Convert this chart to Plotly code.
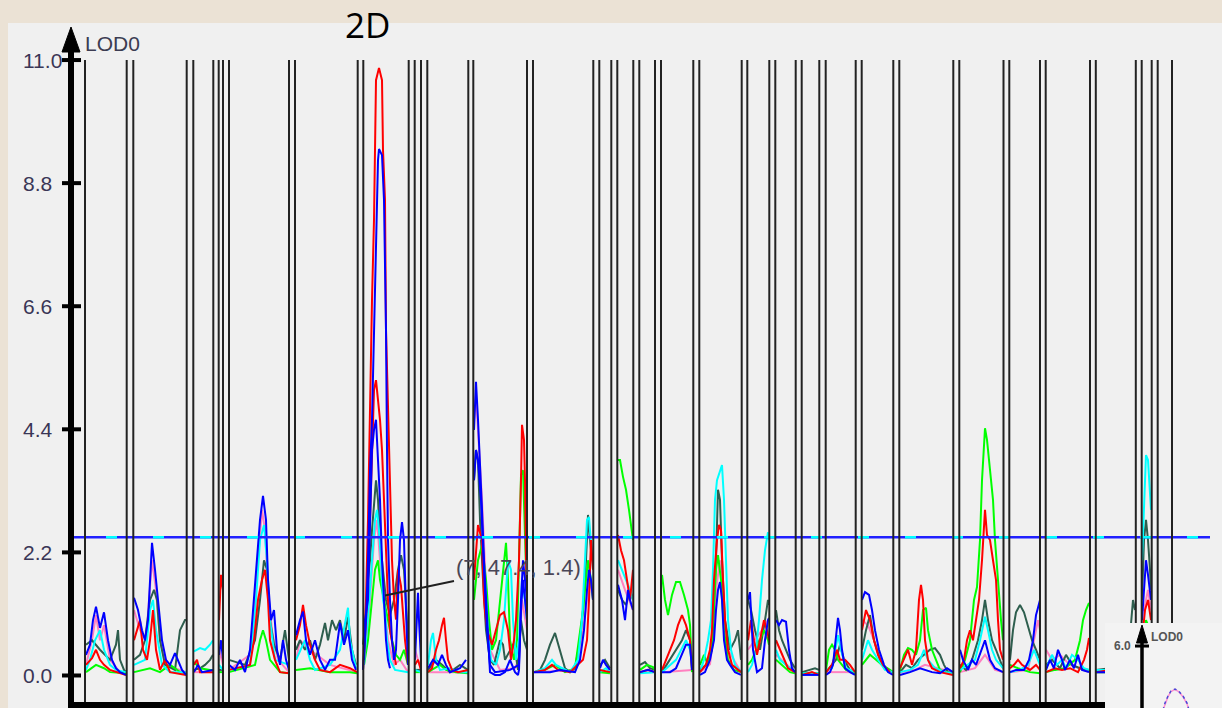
import plotly.graph_objects as go

# ---------------- data (genome position units, LOD values) ----------------
boundaries = [85, 126.7, 133.3, 186.7, 193.3, 213.3, 218.7, 223, 229, 289, 295,
              357.7, 363.3, 408.7, 414.7, 421, 427.3, 468.3, 473.3, 527, 533,
              593.3, 599.3, 611.3, 617.3, 633.3, 639.3, 655, 661, 693.3, 699.3,
              741.7, 747.3, 769.3, 775.3, 795.7, 801.7, 819.3, 825.7, 855.7,
              861.7, 893.3, 899.3, 953.3, 959.3, 1003.5, 1009.3, 1040, 1045.7,
              1090, 1095.8, 1135.8, 1141.7, 1151.7, 1157.7, 1172]

tick_values = [0.0, 2.2, 4.4, 6.6, 8.8, 11.0]
tick_labels = ["0.0", "2.2", "4.4", "6.6", "8.8", "11.0"]
threshold = 2.47
annot_point = (385, 1.43)
annot_text = "(7, 47.4, 1.4)"

red = [
    [(86,0.19),(92,0.31),(96,0.46),(100,0.28),(104,0.19),(110,0.10),(126,0.01)],
    [(134,0.63),(140,0.99),(143,0.46),(147,0.28),(150,0.63),(153,1.17),(156,0.46),(160,0.10),(165,0.28),(170,0.06),(186,0.01)],
    [(194,0.19),(197,0.28),(200,0.06),(213,0.06)],
    [(219,0.99),(221,1.80),(223,1.53)],
    [(229,0.10),(250,0.19),(254,0.63),(258,1.35),(262,1.71),(265,1.89),(268,1.35),(270,0.63),(275,0.28),(280,0.06),(289,0.04)],
    [(296,0.63),(300,0.90),(303,1.26),(306,0.90),(310,0.55),(315,0.28),(320,0.10),(330,0.06),(340,0.19),(350,0.13),(357,0.06)],
    [(363,0.10),(366,1.35),(368,2.78),(370,4.92),(372,6.71),(374,8.14),(376,10.64),(379,10.86),(382,10.64),(383,9.39),(385,8.50),(386,6.18),(388,4.92),(390,3.67),(392,2.06),(394,1.35),(396,1.00),(398,1.89),(401,1.60),(405,0.63),(408,0.19)],
    [(415,0.19),(418,0.28),(421,0.10)],
    [(428,0.06),(432,0.13),(436,0.46),(439,0.63),(442,0.90),(444,1.03),(446,0.63),(448,0.28),(452,0.10),(458,0.06),(468,0.10)],
    [(474,1.71),(478,2.69),(482,2.42),(484,1.35),(486,0.99),(488,0.76),(492,0.55),(496,0.81),(500,1.08),(504,1.13),(508,0.81),(511,0.28),(514,0.63),(516,0.99),(519,2.06),(521,3.49),(522,4.48),(524,4.21),(525,3.49),(526,2.06),(527,1.35)],
    [(534,0.06),(545,0.10),(552,0.19),(558,0.10),(570,0.06),(578,0.19),(583,0.28),(587,0.63),(589,1.35),(591,2.42),(593,1.89)],
    [(600,0.10),(610,0.06)],
    [(618,2.51),(621,2.24),(624,2.06),(627,1.71),(630,1.35),(633,1.89)],
    [(640,0.06),(648,0.10),(655,0.06)],
    [(662,0.10),(666,0.28),(670,0.46),(674,0.63),(678,0.90),(682,1.08),(686,0.90),(690,0.63),(692,0.10)],
    [(700,0.06),(706,0.19),(710,0.46),(712,0.81),(714,1.71),(717,2.42),(719,2.69),(721,2.60),(723,1.71),(725,0.99),(728,0.46),(732,0.19),(741,0.06)],
    [(748,0.63),(751,0.99),(754,0.63),(757,0.37),(760,0.63),(764,0.99),(767,0.81),(769,0.63)],
    [(776,0.63),(780,0.46),(784,0.28),(788,0.13),(795,0.06)],
    [(802,0.01),(812,0.06),(819,0.01)],
    [(826,0.06),(832,0.19),(837,0.46),(840,0.28),(845,0.28),(850,0.19),(855,0.06)],
    [(862,0.81),(866,1.17),(870,0.99),(874,0.63),(878,0.37),(883,0.19),(890,0.06)],
    [(900,0.13),(904,0.28),(908,0.46),(912,0.19),(916,0.46),(919,1.35),(921,1.62),(923,1.35),(925,0.63),(928,0.28),(932,0.13),(940,0.06),(953,0.01)],
    [(960,0.13),(964,0.28),(967,0.63),(970,0.81),(973,0.63),(976,0.99),(979,1.35),(982,2.06),(984,2.78),(985,2.96),(987,2.51),(990,2.42),(993,2.06),(996,1.71),(998,0.99),(1000,0.46),(1003,0.28)],
    [(1010,0.13),(1014,0.19),(1018,0.28),(1022,0.19),(1030,0.10),(1036,0.19),(1040,0.10)],
    [(1046,0.06),(1055,0.13),(1062,0.10),(1070,0.13),(1078,0.06),(1084,0.28),(1087,0.46),(1089,0.67)],
    [(1096,0.06),(1110,0.10),(1125,0.06),(1135,0.13)],
    [(1142,0.63),(1145,1.17),(1148,1.35),(1151,0.99)],
    [(1158,0.10),(1165,0.06),(1172,0.10)],
]

red2 = [
    [(364,0.28),(367,1.35),(370,2.78),(372,4.03),(374,5.10),(376,5.28),(378,4.92),(380,4.57),(382,4.03),(384,3.14),(386,2.06),(388,1.35),(390,0.81),(393,0.46),(396,0.19)],
]

blue = [
    [(86,0.37),(90,0.55),(93,0.99),(96,1.23),(100,0.85),(104,1.13),(108,0.63),(112,0.28),(116,0.13),(120,0.06),(126,0.01)],
    [(134,1.39),(138,1.17),(142,0.81),(145,0.63),(148,0.99),(150,1.62),(152,2.37),(155,1.89),(158,1.35),(162,0.63),(166,0.28),(170,0.19),(175,0.40),(178,0.28),(182,0.10),(186,0.01)],
    [(194,0.06),(198,0.19),(202,0.06),(213,0.10)],
    [(219,0.37),(221,0.63),(223,0.28)],
    [(229,0.19),(235,0.10),(240,0.28),(245,0.06),(250,0.46),(254,1.35),(257,2.06),(260,2.78),(263,3.21),(266,2.78),(268,1.71),(271,0.99),(274,1.17),(277,0.46),(280,0.19),(283,0.63),(286,0.28),(289,0.10)],
    [(296,0.72),(300,0.99),(303,1.14),(306,0.63),(310,0.37),(315,0.63),(320,0.28),(325,0.10),(330,0.28),(335,0.28),(340,0.94),(344,0.55),(348,0.81),(352,0.28),(356,0.10)],
    [(363,0.10),(366,0.99),(368,2.06),(370,3.67),(372,4.57),(374,6.18),(376,7.61),(378,9.21),(379,9.41),(382,9.30),(384,8.50),(386,6.18),(387,4.03),(388,2.42),(390,1.35),(392,0.63),(394,0.28),(396,0.46),(398,1.35),(400,2.42),(402,2.74),(404,2.42),(406,1.17),(408,0.19)],
    [(415,0.28),(417,0.99),(418,1.48),(419,0.99),(421,0.28)],
    [(428,0.13),(433,0.28),(438,0.19),(442,0.37),(446,0.19),(450,0.06),(460,0.13),(466,0.28)],
    [(474,4.39),(476,5.25),(478,4.57),(480,3.85),(482,2.96),(484,2.06),(486,1.30),(488,0.63),(490,0.06),(495,0.01),(500,0.01),(505,0.06),(510,0.28),(515,0.06),(518,0.01),(519,0.10),(521,1.35),(523,2.06),(525,1.71),(527,1.35)],
    [(534,0.06),(550,0.06),(560,0.10),(575,0.06),(580,0.28),(584,0.81),(587,1.53),(589,1.89),(591,1.71),(593,1.35)],
    [(600,0.13),(603,0.28),(606,0.19),(610,0.10)],
    [(618,1.62),(622,1.35),(625,0.99),(628,1.53),(630,1.35),(633,1.17)],
    [(640,0.06),(648,0.10),(655,0.06)],
    [(662,0.06),(670,0.06),(676,0.13),(682,0.37),(686,0.55),(690,0.55),(692,0.10)],
    [(700,0.01),(705,0.06),(710,0.28),(714,0.63),(716,1.17),(718,1.53),(720,1.67),(722,1.35),(724,0.63),(727,0.28),(730,0.19),(735,0.06),(741,0.01)],
    [(748,1.35),(750,1.49),(753,0.46),(757,0.06),(762,0.13),(765,0.63),(768,0.99),(769,1.03)],
    [(776,0.99),(779,0.90),(782,0.99),(786,0.96),(789,0.46),(792,0.13),(795,0.06)],
    [(802,0.01),(819,0.01)],
    [(826,0.01),(830,0.06),(833,0.19),(836,0.63),(838,1.03),(840,0.81),(842,0.46),(845,0.13),(850,0.06),(855,0.01)],
    [(862,1.35),(865,1.49),(869,1.44),(872,1.17),(875,0.81),(879,0.46),(884,0.19),(888,0.06),(893,0.01)],
    [(900,0.01),(910,0.06),(920,0.13),(926,0.10),(932,0.06),(940,0.04),(947,0.13),(953,0.06)],
    [(960,0.46),(963,0.28),(968,0.10),(972,0.28),(976,0.19),(980,0.37),(985,0.63),(990,0.28),(995,0.13),(1003,0.06)],
    [(1010,0.06),(1016,0.10),(1024,0.10),(1029,0.28),(1033,0.63),(1036,1.08),(1038,1.21),(1040,1.35)],
    [(1046,0.10),(1050,0.28),(1054,0.13),(1058,0.46),(1062,0.28),(1065,0.10),(1070,0.28),(1074,0.13),(1078,0.37),(1082,0.10),(1089,0.06)],
    [(1096,0.06),(1110,0.06),(1125,0.10),(1135,0.06)],
    [(1142,0.99),(1144,1.53),(1146,2.06),(1148,1.80),(1150,1.53),(1151,1.35)],
    [(1158,0.06),(1172,0.06)],
]

blue2 = [
    [(364,0.28),(365,0.99),(368,1.35),(370,2.78),(372,4.03),(374,4.39),(376,4.57),(378,3.85),(380,3.14),(382,2.06),(384,1.35),(386,0.63),(388,0.28),(390,0.13)],
    [(474,3.49),(476,4.03),(478,3.85),(481,3.14),(484,1.89),(487,0.81),(490,0.19),(495,0.06),(510,0.10),(519,0.19),(521,1.17),(523,1.71),(525,1.35),(527,0.99)],
]

cyan = [
    [(86,0.10),(90,0.28),(95,0.63),(100,0.81),(104,0.46),(110,0.19),(116,0.10),(126,0.06)],
    [(134,0.19),(145,0.28),(150,1.17),(153,1.35),(156,0.81),(162,0.19),(170,0.06),(186,0.06)],
    [(194,0.43),(200,0.49),(205,0.46),(210,0.55),(213,0.63)],
    [(219,0.19),(223,0.10)],
    [(229,0.10),(250,0.19),(256,1.35),(260,2.42),(264,2.69),(267,2.06),(270,0.99),(275,0.28),(289,0.19)],
    [(296,0.28),(305,0.63),(310,0.28),(315,0.10),(330,0.19),(340,0.46),(348,1.21),(350,0.63),(356,0.13)],
    [(364,0.19),(368,0.99),(370,1.53),(372,2.06),(375,2.78),(377,2.96),(379,2.60),(381,2.06),(383,1.35),(385,1.17),(387,0.63),(390,0.28),(395,0.10),(408,0.06)],
    [(415,0.10),(421,0.06)],
    [(428,0.19),(431,0.63),(433,0.76),(436,0.28),(440,0.10),(450,0.13),(460,0.06),(468,0.06)],
    [(474,2.42),(478,2.51),(482,2.42),(485,1.71),(488,0.81),(491,0.28),(496,0.19),(500,0.46),(504,0.99),(508,2.06),(511,1.89),(513,0.99),(516,0.28),(519,0.63),(522,1.71),(525,1.35),(527,0.99)],
    [(534,0.06),(545,0.13),(552,0.28),(556,0.19),(570,0.06),(578,0.28),(582,0.99),(585,2.06),(587,2.78),(589,2.83),(591,2.42),(593,1.89)],
    [(600,0.06),(606,0.13),(610,0.06)],
    [(618,2.06),(622,1.89),(626,1.71),(630,1.53),(633,1.35)],
    [(640,0.04),(655,0.06)],
    [(662,0.06),(670,0.19),(676,0.28),(682,0.49),(686,0.63),(690,0.46),(692,0.19)],
    [(700,0.06),(704,0.28),(708,0.63),(711,0.99),(713,1.89),(715,3.14),(717,3.49),(720,3.67),(722,3.76),(724,3.14),(726,2.06),(728,0.99),(731,0.46),(735,0.19),(741,0.06)],
    [(748,0.06),(752,0.19),(756,0.46),(759,0.99),(762,1.71),(765,2.24),(768,2.56),(769,2.42)],
    [(776,0.46),(780,0.28),(786,0.19),(795,0.06)],
    [(802,0.04),(819,0.04)],
    [(826,0.10),(832,0.13),(838,0.72),(841,0.46),(846,0.13),(855,0.06)],
    [(862,0.28),(868,0.63),(872,0.46),(878,0.28),(885,0.10),(893,0.06)],
    [(900,0.06),(910,0.10),(918,0.19),(924,0.46),(928,0.28),(935,0.13),(945,0.06),(953,0.04)],
    [(960,0.10),(968,0.19),(975,0.28),(980,0.63),(985,1.05),(988,0.81),(992,0.46),(996,0.28),(1003,0.13)],
    [(1010,0.06),(1020,0.10),(1028,0.19),(1034,0.46),(1038,0.28),(1040,0.19)],
    [(1046,0.13),(1052,0.37),(1057,0.19),(1062,0.28),(1066,0.13),(1072,0.37),(1078,0.28),(1084,0.13),(1089,0.10)],
    [(1096,0.10),(1135,0.10)],
    [(1142,2.06),(1144,3.14),(1146,3.94),(1148,3.85),(1150,3.32),(1151,2.96)],
    [(1158,0.06),(1172,0.06)],
]

green = [
    [(86,0.06),(96,0.19),(104,0.13),(110,0.06),(126,0.04)],
    [(134,0.06),(150,0.13),(160,0.06),(170,0.19),(180,0.06),(186,0.04)],
    [(194,0.24),(200,0.13),(210,0.10),(213,0.10)],
    [(219,0.06),(223,0.06)],
    [(229,0.06),(255,0.19),(260,0.63),(263,0.81),(266,0.63),(270,0.28),(280,0.06),(289,0.04)],
    [(296,0.10),(310,0.13),(330,0.06),(350,0.06),(357,0.04)],
    [(364,0.19),(368,0.63),(372,1.35),(375,1.89),(378,2.06),(380,1.71),(384,1.35),(388,0.99),(392,0.63),(396,0.37),(400,0.28),(404,0.46),(408,0.19)],
    [(415,0.06),(421,0.06)],
    [(428,0.06),(440,0.19),(446,0.10),(456,0.06),(468,0.04)],
    [(474,1.35),(478,2.06),(482,2.33),(486,1.71),(489,0.99),(492,0.46),(496,0.63),(500,1.35),(504,2.06),(506,2.37),(508,1.71),(510,0.63),(514,0.28),(517,0.63),(519,2.06),(521,3.58),(523,3.67),(525,2.42),(527,1.35)],
    [(534,0.06),(545,0.10),(555,0.19),(565,0.06),(575,0.13),(579,0.63),(583,1.17),(586,1.71),(588,2.06),(591,1.71),(593,1.35)],
    [(600,0.06),(610,0.04)],
    [(618,3.85),(620,3.85),(623,3.55),(626,3.32),(629,2.96),(632,2.60),(633,2.42)],
    [(640,0.10),(647,0.19),(653,0.15),(655,0.10)],
    [(662,1.80),(665,1.35),(668,1.08),(672,1.44),(676,1.67),(680,1.67),(684,1.44),(688,1.17),(690,0.90),(692,0.06)],
    [(700,0.19),(704,0.37),(708,0.19),(712,0.63),(716,1.89),(718,2.15),(721,1.71),(724,0.81),(728,0.28),(734,0.10),(741,0.06)],
    [(748,0.19),(752,0.28),(756,0.46),(760,0.63),(764,0.81),(768,0.63),(769,0.55)],
    [(776,0.28),(782,0.19),(790,0.06),(795,0.04)],
    [(802,0.04),(819,0.04)],
    [(826,0.10),(829,0.46),(832,0.55),(835,0.46),(838,0.28),(842,0.19),(846,0.10),(855,0.04)],
    [(862,0.19),(870,0.37),(876,0.28),(882,0.19),(890,0.10),(893,0.06)],
    [(900,0.10),(904,0.37),(908,0.49),(912,0.46),(916,0.37),(920,0.63),(923,1.17),(926,1.21),(928,0.81),(932,0.46),(936,0.28),(940,0.10),(946,0.06),(953,0.04)],
    [(960,0.06),(965,0.28),(970,0.63),(974,1.35),(977,1.58),(980,2.42),(982,3.49),(984,4.21),(985,4.42),(987,4.21),(990,3.67),(993,3.14),(995,2.42),(997,1.89),(999,1.35),(1001,0.99),(1003,0.63)],
    [(1010,0.19),(1018,0.13),(1030,0.06),(1040,0.04)],
    [(1046,0.06),(1055,0.10),(1065,0.13),(1075,0.28),(1080,0.63),(1083,0.99),(1086,1.17),(1089,1.30)],
    [(1096,0.06),(1135,0.06)],
    [(1142,0.46),(1146,0.99),(1150,0.81)],
    [(1158,0.04),(1172,0.04)],
]

darkgreen = [
    [(86,0.55),(92,0.63),(100,0.46),(110,0.28),(116,0.55),(118,0.81),(120,0.28),(124,0.10),(126,0.06)],
    [(134,0.28),(140,0.37),(145,0.63),(150,1.35),(154,1.53),(157,1.35),(160,0.63),(165,0.19),(175,0.10),(180,0.81),(185,0.99),(186,0.99)],
    [(194,0.10),(200,0.13),(205,0.19),(210,0.28),(213,0.37)],
    [(219,0.10),(223,0.10)],
    [(229,0.28),(245,0.19),(255,0.63),(260,1.35),(264,2.06),(267,1.89),(270,0.99),(274,0.55),(280,0.28),(285,0.81),(289,0.28)],
    [(296,0.46),(300,0.63),(305,0.46),(310,0.63),(315,0.28),(320,0.55),(325,0.94),(328,0.63),(332,0.99),(336,0.81),(340,0.99),(344,0.63),(348,1.05),(352,0.46),(356,0.19)],
    [(363,0.55),(366,0.99),(368,1.71),(370,2.06),(372,2.60),(374,3.14),(376,3.49),(378,3.14),(380,2.42),(382,2.06),(384,1.71),(386,1.35),(390,1.08),(394,1.35),(398,1.89),(401,2.15),(404,1.89),(406,1.17),(408,0.63)],
    [(415,0.10),(421,0.10)],
    [(428,0.10),(436,0.28),(442,0.19),(450,0.06),(460,0.19),(468,0.10)],
    [(474,3.49),(476,4.03),(478,3.85),(480,2.78),(483,1.71),(486,0.81),(490,0.28),(494,0.19),(500,0.63),(503,0.55),(505,0.28),(510,0.46),(514,0.58),(518,0.10),(521,0.99),(524,0.63),(527,0.46)],
    [(534,0.06),(540,0.10),(545,0.28),(550,0.55),(555,0.76),(560,0.46),(565,0.13),(570,0.06),(575,0.13),(580,0.63),(583,1.17),(586,2.06),(588,2.87),(590,2.42),(592,2.06)],
    [(600,0.19),(605,0.28),(610,0.13)],
    [(618,1.53),(622,1.35),(626,1.26),(630,1.53),(633,1.35)],
    [(640,0.19),(645,0.24),(650,0.13),(655,0.10)],
    [(662,0.06),(670,0.28),(676,0.46),(682,0.63),(686,0.81),(690,0.63),(692,0.28)],
    [(700,0.10),(706,0.19),(712,0.46),(716,2.06),(718,3.32),(720,3.14),(722,2.06),(725,0.99),(730,0.46),(735,0.63),(738,0.81),(741,0.28)],
    [(748,1.35),(751,1.17),(755,0.81),(760,0.46),(765,0.99),(768,1.35),(769,1.26)],
    [(776,1.17),(779,0.81),(782,0.63),(786,0.46),(790,0.28),(795,0.13)],
    [(802,0.06),(810,0.10),(815,0.13),(819,0.10)],
    [(826,0.06),(836,0.28),(840,0.55),(844,0.28),(850,0.10),(855,0.06)],
    [(862,0.46),(866,0.81),(870,1.08),(874,0.63),(880,0.28),(886,0.10),(893,0.06)],
    [(900,0.06),(906,0.19),(912,0.13),(918,0.28),(924,0.37),(930,0.46),(935,0.49),(940,0.37),(944,0.19),(948,0.06),(953,0.04)],
    [(960,0.19),(966,0.10),(972,0.28),(978,0.63),(982,0.99),(985,1.35),(988,0.99),(992,0.63),(996,0.46),(1000,0.28),(1003,0.13)],
    [(1010,0.28),(1013,0.81),(1016,1.13),(1020,1.26),(1024,1.13),(1028,0.90),(1032,0.63),(1036,0.46),(1040,0.28)],
    [(1046,0.19),(1052,0.28),(1060,0.13),(1066,0.37),(1072,0.19),(1080,0.13),(1089,0.10)],
    [(1096,0.10),(1110,0.13),(1128,0.28),(1133,1.35),(1135,1.17)],
    [(1142,1.35),(1144,2.42),(1146,2.78),(1148,2.42),(1150,1.89),(1151,1.53)],
    [(1158,0.10),(1172,0.10)],
]

pink = [
    [(86,0.19),(92,0.63),(96,1.08),(100,0.63),(104,0.90),(110,0.28),(120,0.06)],
    [(134,1.17),(140,0.81),(146,0.63),(150,1.53),(152,2.06),(156,1.53),(160,0.63),(166,0.19),(186,0.06)],
    [(194,0.06),(213,0.06)],
    [(219,0.46),(223,0.19)],
    [(229,0.10),(250,0.37),(254,1.17),(258,2.06),(262,2.96),(265,2.60),(268,1.53),(272,0.81),(278,0.28),(289,0.06)],
    [(296,0.28),(300,0.63),(310,0.46),(330,0.19),(357,0.06)],
    [(364,0.19),(370,1.35),(374,2.42),(377,2.78),(380,2.06),(384,1.35),(388,0.63),(394,0.19),(400,0.28),(408,0.06)],
    [(415,0.46),(421,0.10)],
    [(428,0.06),(468,0.06)],
    [(474,4.57),(476,5.01),(478,4.39),(482,3.14),(486,1.58),(490,0.46),(500,0.10),(515,0.13),(519,0.30),(522,1.35),(527,0.81)],
    [(534,0.06),(560,0.08),(575,0.10),(580,0.40),(584,0.99),(587,1.35),(590,1.71),(593,1.35)],
    [(600,0.06),(610,0.06)],
    [(618,1.89),(625,1.53),(633,1.17)],
    [(640,0.06),(655,0.06)],
    [(662,0.06),(692,0.10)],
    [(700,0.06),(710,0.20),(713,0.63),(716,1.53),(720,2.06),(724,1.17),(728,0.46),(741,0.06)],
    [(748,0.46),(755,0.63),(762,0.81),(768,0.99)],
    [(776,0.37),(795,0.06)],
    [(802,0.04),(819,0.04)],
    [(826,0.06),(855,0.06)],
    [(862,0.99),(868,0.90),(874,0.63),(885,0.10)],
    [(900,0.06),(915,0.10),(925,0.19),(953,0.06)],
    [(960,0.06),(975,0.13),(985,0.37),(995,0.10),(1003,0.06)],
    [(1010,0.06),(1028,0.10),(1034,0.63),(1038,0.99),(1040,0.81)],
    [(1046,0.46),(1052,0.28),(1060,0.37),(1070,0.19),(1089,0.06)],
    [(1096,0.06),(1135,0.06)],
    [(1142,1.17),(1144,1.17),(1148,1.53),(1151,1.17)],
    [(1158,0.06),(1172,0.06)],
]

# inset (partially visible second LOD panel)
inset_pos = [1163, 1165, 1168, 1171, 1175, 1179, 1183, 1187, 1189]
inset_blue = [-0.2, 0.48, 1.16, 1.65, 1.84, 1.60, 1.16, 0.48, -0.2]
inset_pink = [-0.2, 0.40, 1.10, 1.60, 1.80, 1.55, 1.10, 0.40, -0.2]
inset_tick = 6.0

# ---------------- layout geometry (pixels of the 1222x708 page) ----------------
W, H = 1222, 708
L, R, T, B = 71, 1222, 30, 708
BEIGE = "#ebe2d5"


def px(x):
    return (x - L) / (R - L)


def py(y):
    return (B - y) / (B - T)


def flatten(segments):
    xs, ys = [], []
    for seg in segments:
        for x, v in seg:
            xs.append(x)
            ys.append(v)
        xs.append(None)
        ys.append(None)
    return xs, ys


fig = go.Figure()

series = [
    (pink, "#ff80c0"),
    (darkgreen, "#2e5e4e"),
    (green, "#00ff00"),
    (cyan, "#00ffff"),
    (red2, "#ff0000"),
    (red, "#ff0000"),
    (blue2, "#0000ff"),
    (blue, "#0000ff"),
]
for segs, col in series:
    xs, ys = flatten(segs)
    fig.add_trace(go.Scatter(x=xs, y=ys, mode="lines",
                             line=dict(color=col, width=2),
                             hoverinfo="skip", showlegend=False))

# threshold line: blue with cyan dashes
fig.add_trace(go.Scatter(x=[L, 1210], y=[threshold, threshold], mode="lines",
                         line=dict(color="#2020ff", width=2.5),
                         hoverinfo="skip", showlegend=False))
fig.add_trace(go.Scatter(x=[106, 1210], y=[threshold, threshold], mode="lines",
                         line=dict(color="#00ffff", width=2.5, dash="11px,36px"),
                         hoverinfo="skip", showlegend=False))

# chromosome boundary lines
bx, by = [], []
for b in boundaries:
    bx += [b, b, None]
    by += [11.0, -0.6, None]
fig.add_trace(go.Scatter(x=bx, y=by, mode="lines",
                         line=dict(color="#222222", width=2),
                         hoverinfo="skip", showlegend=False))

# inset curves
fig.add_trace(go.Scatter(x=inset_pos, y=inset_pink, mode="lines", xaxis="x2", yaxis="y2",
                         line=dict(color="#ff90d0", width=1.5),
                         hoverinfo="skip", showlegend=False))
fig.add_trace(go.Scatter(x=inset_pos, y=inset_blue, mode="lines", xaxis="x2", yaxis="y2",
                         line=dict(color="#4848d8", width=1.5, dash="dot"),
                         hoverinfo="skip", showlegend=False))

shapes = []
# grey panel
shapes.append(dict(type="rect", xref="paper", yref="paper",
                   x0=px(8), x1=px(1222), y0=py(708), y1=py(23),
                   fillcolor="#f0f0f0", line=dict(width=0), layer="below"))
# main y axis
shapes.append(dict(type="line", xref="paper", yref="paper",
                   x0=px(71), x1=px(71), y0=py(708), y1=py(40),
                   line=dict(color="black", width=6), layer="above"))
shapes.append(dict(type="path", xref="paper", yref="paper",
                   path=f"M {px(62)},{py(52)} L {px(71)},{py(27)} L {px(80)},{py(52)} Z",
                   fillcolor="black", line=dict(color="black", width=1), layer="above"))
# main x axis bar
shapes.append(dict(type="line", xref="paper", yref="paper",
                   x0=px(68), x1=px(1105), y0=py(705), y1=py(705),
                   line=dict(color="black", width=6), layer="above"))
# y ticks
for v in tick_values:
    shapes.append(dict(type="line", xref="paper", yref="y",
                       x0=px(62), x1=px(81), y0=v, y1=v,
                       line=dict(color="black", width=4), layer="above"))
# inset axis
shapes.append(dict(type="line", xref="paper", yref="paper",
                   x0=px(1142), x1=px(1142), y0=py(708), y1=py(635),
                   line=dict(color="black", width=3.5), layer="above"))
shapes.append(dict(type="path", xref="paper", yref="paper",
                   path=f"M {px(1136.5)},{py(643)} L {px(1142)},{py(625)} L {px(1147.5)},{py(643)} Z",
                   fillcolor="black", line=dict(color="black", width=1), layer="above"))
shapes.append(dict(type="line", xref="paper", yref="y2",
                   x0=px(1135), x1=px(1149), y0=inset_tick, y1=inset_tick,
                   line=dict(color="black", width=3), layer="above"))

annotations = []
for v, t in zip(tick_values, tick_labels):
    annotations.append(dict(x=px(21), y=v, xref="paper", yref="y", text=t,
                            showarrow=False, xanchor="left", yanchor="middle",
                            font=dict(family="Liberation Sans, Arial", size=21, color="#3a3656")))
annotations.append(dict(x=px(83), y=py(44), xref="paper", yref="paper", text="LOD0",
                        showarrow=False, xanchor="left", yanchor="middle",
                        font=dict(family="Liberation Sans, Arial", size=21, color="#3c3c52")))
annotations.append(dict(x=px(367), y=py(25), xref="paper", yref="paper", text="2D",
                        showarrow=False, xanchor="center", yanchor="middle",
                        font=dict(family="Open Sans, Noto Sans", size=35, color="black")))
annotations.append(dict(x=annot_point[0], y=annot_point[1], xref="x", yref="y",
                        text=annot_text, showarrow=True, arrowhead=0, arrowwidth=2,
                        arrowcolor="#202020", ax=133, ay=-28, standoff=0,
                        font=dict(family="Liberation Sans, Arial", size=22, color="#4a4656")))
annotations.append(dict(x=px(1112), y=inset_tick, xref="paper", yref="y2", text="<b>6.0</b>",
                        showarrow=False, xanchor="left", yanchor="middle",
                        font=dict(family="Liberation Sans, Arial", size=12, color="#555555")))
annotations.append(dict(x=px(1149), y=py(637), xref="paper", yref="paper", text="<b>LOD0</b>",
                        showarrow=False, xanchor="left", yanchor="middle",
                        font=dict(family="Liberation Sans, Arial", size=12, color="#555555")))

fig.update_layout(
    width=W, height=H, autosize=False,
    margin=dict(l=L, r=W - R, t=T, b=H - B, pad=0),
    paper_bgcolor=BEIGE,
    plot_bgcolor="#f3f3f3",
    showlegend=False,
    xaxis=dict(range=[L, R], domain=[0, 1], visible=False, fixedrange=True),
    yaxis=dict(range=[-0.581, 11.537], domain=[0, 1], visible=False, fixedrange=True),
    xaxis2=dict(range=[1105, 1222], domain=[px(1105), 1], anchor="y2", visible=False),
    yaxis2=dict(range=[0, 8.23], domain=[0, py(623)], anchor="x2", visible=False),
    shapes=shapes,
    annotations=annotations,
)

# remove the default 8px page margin so the figure sits at the window origin
fig.write_html(
    "out.html",
    config={"displayModeBar": False},
    post_script=("document.body.style.margin='0';"
                 "document.body.style.padding='0';"
                 "document.body.style.overflow='hidden';"
                 f"document.body.style.background='{BEIGE}';"),
)
